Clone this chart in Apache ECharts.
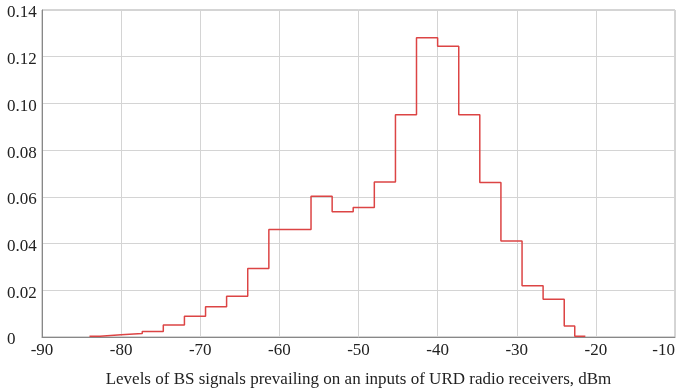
<!DOCTYPE html>
<html>
<head>
<meta charset="utf-8">
<script src="https://cdn.jsdelivr.net/npm/echarts@6/dist/echarts.min.js"></script>
<style>html,body{margin:0;padding:0;background:#fff}#c{width:678px;height:392px}</style>
</head>
<body>
<div id="c"></div>
<script>
// Histogram bin left edges (dBm) and their frequencies
var binEdges = [-84.0, -82.67, -80.0, -77.33, -74.67, -72.0, -69.33, -66.67, -64.0, -61.33, -58.67, -56.0, -53.33, -50.67, -48.0, -45.33, -42.67, -40.0, -37.33, -34.67, -32.0, -29.33, -26.67, -24.0, -22.67];
var binValues = [0.0003, 0.0010, 0.0015, 0.0024, 0.0051, 0.0089, 0.0129, 0.0174, 0.0293, 0.0460, 0.0460, 0.0603, 0.0536, 0.0554, 0.0664, 0.0952, 0.1281, 0.1245, 0.0952, 0.0662, 0.0411, 0.0219, 0.0162, 0.0047, 0.0003];
var lastEdge = -21.33;
var xTicks = [-90, -80, -70, -60, -50, -40, -30, -20, -10];
var yTicks = [0, 0.02, 0.04, 0.06, 0.08, 0.10, 0.12, 0.14];
var xTitle = 'Levels of BS signals prevailing on an inputs of URD radio receivers, dBm';

var pts = binEdges.map(function (e, i) { return [e, binValues[i]]; });
pts.push([lastEdge, binValues[binValues.length - 1]]);

var font = 'Liberation Serif';
var chart = echarts.init(document.getElementById('c'), null, {renderer: 'canvas'});
chart.setOption({
  animation: false,
  grid: {left: 42, right: 3, top: 10, bottom: 55, show: true, borderColor: '#aaaaaa', borderWidth: 1,
         containLabel: false, outerBoundsMode: 'none'},
  xAxis: {
    type: 'value', min: xTicks[0], max: xTicks[xTicks.length - 1], interval: 10,
    name: xTitle, nameLocation: 'middle', nameGap: 34,
    nameTextStyle: {fontFamily: font, fontSize: 17, color: '#222'},
    axisLine: {lineStyle: {color: '#888', width: 1}},
    axisTick: {show: false},
    splitLine: {lineStyle: {color: '#d4d4d4', width: 1}},
    axisLabel: {fontFamily: font, fontSize: 17, color: '#222', margin: 5, alignMaxLabel: 'right',
      formatter: function (v) { return String(v); }}
  },
  yAxis: {
    type: 'value', min: 0, max: yTicks[yTicks.length - 1], interval: 0.02,
    axisLine: {show: true, lineStyle: {color: '#888', width: 1}},
    axisTick: {show: false},
    splitLine: {lineStyle: {color: '#d4d4d4', width: 1}},
    axisLabel: {fontFamily: font, fontSize: 17, color: '#222', margin: 35, align: 'left',
      verticalAlign: 'top', lineHeight: 6,
      formatter: function (v) { return v === 0 ? '0' : v.toFixed(2); }}
  },
  series: [{
    type: 'line', step: 'end', data: pts, symbol: 'none',
    lineStyle: {color: '#dc4444', width: 1.5}
  }]
});
</script>
</body>
</html>
